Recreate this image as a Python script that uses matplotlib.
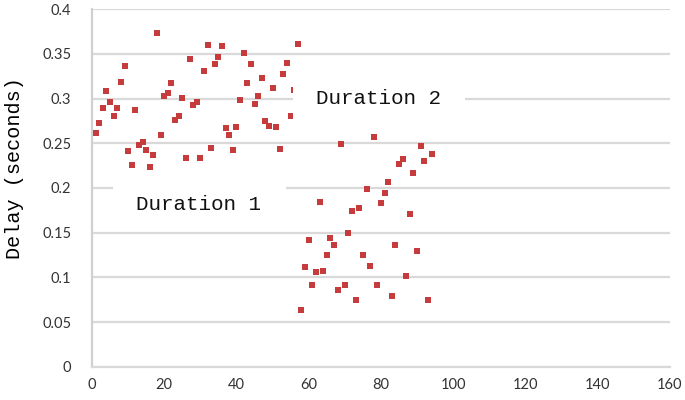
import matplotlib
matplotlib.use("Agg")
import matplotlib.pyplot as plt
from matplotlib.patches import Rectangle

# delay per sample (x = 1..94)
sample_no = list(range(1, 95))
delay = [0.261, 0.273, 0.289, 0.308, 0.296, 0.280, 0.289, 0.319, 0.336, 0.241,
         0.226, 0.287, 0.248, 0.252, 0.243, 0.224, 0.237, 0.374, 0.259, 0.303,
         0.306, 0.318, 0.276, 0.281, 0.301, 0.234, 0.344, 0.293, 0.296, 0.234,
         0.331, 0.360, 0.245, 0.339, 0.347, 0.359, 0.267, 0.259, 0.243, 0.268,
         0.298, 0.351, 0.317, 0.339, 0.294, 0.303, 0.323, 0.275, 0.269, 0.312,
         0.268, 0.244, 0.328, 0.340, 0.281, 0.310, 0.361,
         0.063, 0.112, 0.142, 0.091, 0.106, 0.184, 0.107, 0.125, 0.144, 0.136,
         0.086, 0.249, 0.091, 0.150, 0.174, 0.075, 0.178, 0.125, 0.199, 0.113,
         0.257, 0.091, 0.183, 0.194, 0.207, 0.079, 0.136, 0.227, 0.232, 0.101,
         0.171, 0.217, 0.130, 0.247, 0.230, 0.075, 0.238]

labels = ["Duration 1", "Duration 2"]
label_xy = [(29.6, 0.181), (79.4, 0.300)]
label_box = [(5.8, 0.153, 47.9, 0.056), (55.6, 0.274, 47.6, 0.053)]

fig = plt.figure(figsize=(6.85, 4), dpi=100)
ax = fig.add_axes([0.1343, 0.0833, 0.8437, 0.8935])

ax.scatter(sample_no, delay, marker='s', s=13, color='#C63B3B', linewidths=0, zorder=3)

ax.set_xlim(0, 160)
ax.set_ylim(0, 0.4)
ax.set_xticks(range(0, 161, 20))
ax.set_yticks([0, 0.05, 0.1, 0.15, 0.2, 0.25, 0.3, 0.35, 0.4])
ax.set_yticklabels(['0', '0.05', '0.1', '0.15', '0.2', '0.25', '0.3', '0.35', '0.4'])
ax.grid(axis='y', color='#D9D9D9', linewidth=1.6, zorder=1)
ax.set_axisbelow(True)

for s in ['top', 'right']:
    ax.spines[s].set_visible(False)
ax.spines['left'].set_color('#D0D0D0')
ax.spines['left'].set_linewidth(1.6)
ax.spines['bottom'].set_color('#D9D9D9')
ax.spines['bottom'].set_linewidth(1.6)
ax.tick_params(axis='both', length=0, labelsize=10.5, labelcolor='#333333',
               labelfontfamily='Lato')
ax.tick_params(axis='y', pad=15)
ax.tick_params(axis='x', pad=8)

ax.set_ylabel('Delay (seconds)', family='Liberation Mono', fontsize=14.5)
ax.yaxis.set_label_coords(-0.117, 0.556)

for (bx, by, bw, bh), (tx, ty), t in zip(label_box, label_xy, labels):
    ax.add_patch(Rectangle((bx, by), bw, bh, facecolor='white', edgecolor='none', zorder=4))
    ax.text(tx, ty, t, family='Liberation Mono', fontsize=15, ha='center', va='center',
            color='#111111', zorder=5)

fig.savefig('out.png', dpi=100)
